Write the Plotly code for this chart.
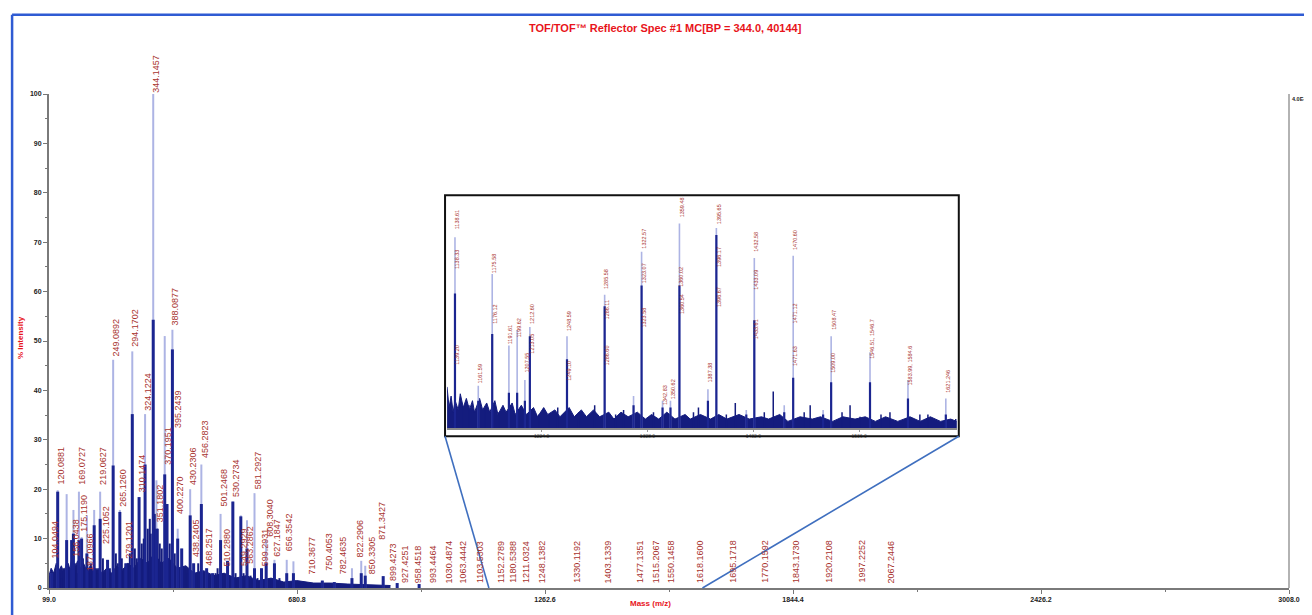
import plotly.graph_objects as go

# ---------------- main spectrum data (m/z, % intensity) ----------------
main_mz = [105.3, 119.4, 140.4, 152.1, 156.3, 169.2, 175.5, 187.9, 205.0, 219.0,
           236.4, 249.5, 265.2, 279.2, 294.4, 310.3, 324.4, 343.5, 351.0, 370.5,
           375.9, 388.5, 400.9, 410.3, 430.2, 438.3, 456.4, 468.8, 482.8, 501.5,
           517.9, 530.3, 549.0, 563.5, 581.1, 597.5, 608.5, 627.9, 656.7, 672.4,
           740.2, 768.3, 809.7, 831.5, 840.9, 883.0, 915.8, 967.3]
main_int = [3, 19.8, 19, 9.7, 15.8, 19.5, 10.3, 14.7, 15.8, 19.5,
            5.7, 46.2, 15.8, 5, 47.9, 18.4, 35.2, 100, 21.8, 51,
            17, 52.3, 12, 8, 20, 5, 25, 4, 3, 15,
            5.5, 17.5, 14.7, 13.7, 19.2, 4, 9.7, 5.7, 5.7, 5.4,
            1.5, 1.2, 4, 5.5, 4.5, 2.4, 1, 0.8]
main_core = [3, 19.5, 9.7, 9.7, 11, 9.7, 10, 7, 12.7, 14,
             5.7, 24.8, 15.4, 5, 35.2, 18.4, 25, 54.3, 12, 23,
             17, 48.3, 10, 8, 14.7, 5, 17, 4, 3, 9.7,
             5.5, 17.5, 14.5, 8, 4, 4, 5, 5, 3, 3,
             1.5, 1.2, 2, 3, 2.5, 2.4, 1, 0.8]

minor_mz = [106.0, 110.7, 124.7, 129.4, 134.1, 143.5, 148.1, 159.8, 164.5, 178.6,
            183.3, 192.6, 197.3, 209.0, 213.7, 225.4, 230.1, 241.8, 255.8, 260.5,
            269.8, 274.5, 283.9, 288.6, 300.3, 304.9, 316.6, 321.3, 330.7, 335.4,
            337.7, 347.1, 354.1, 358.8, 363.5, 382.2, 393.9, 417.3, 424.3, 445.4,
            449.1, 461.7, 475.8, 489.8, 494.5, 508.6, 524.9, 536.6, 555.4, 571.8,
            588.1, 616.2, 639.6, 686.4, 721.5, 780.0]
minor_int = [3, 1.5, 3, 2, 4, 5, 4, 5, 3, 6,
             4, 3, 5, 4, 3, 6, 3, 4, 7, 5,
             6, 4, 5, 7, 8, 6, 9, 10, 12, 14,
             11, 15, 12, 9, 8, 9, 7, 4, 3, 3,
             5, 3, 2, 3, 4, 3, 2.5, 3, 3, 2.5,
             2, 1.5, 2, 1, 1, 0.8]

main_noise_mz = [99, 104, 110, 116, 122, 128, 134, 140, 147, 153,
                 160, 166, 172, 180, 188, 196, 205, 214, 224, 234,
                 246, 258, 270, 284, 298, 314, 330, 346, 362, 380,
                 400, 420, 440, 462, 486, 510, 536, 562, 590, 620,
                 650, 680, 720, 760, 800, 850, 900]
main_noise_int = [2.5, 4, 3, 5, 3.5, 4.5, 3, 5, 4, 6,
                  4, 5.5, 4, 5, 3.5, 4.5, 3, 4, 3, 4,
                  3, 4.5, 3.5, 5, 4, 6, 5, 7, 5, 6,
                  4, 4.5, 3, 3.5, 2.5, 3, 2, 2.5, 1.5, 2,
                  1.2, 1.5, 1, 1, 0.8, 0.6, 0.5]

label_mz = [105.3, 119.4, 156.3, 169.2, 175.5, 187.9, 219.0, 225.4, 249.5, 265.2,
            279.2, 294.4, 310.3, 324.4, 343.5, 351.0, 370.5, 388.5, 395.0, 400.9,
            430.2, 438.3, 456.4, 468.8, 501.5, 510.0, 530.3, 549.0, 563.5, 581.1,
            599.0, 608.5, 627.9, 656.7,
            710, 750, 782, 822, 850, 871, 899, 927, 958, 993,
            1030, 1063, 1103, 1152, 1180, 1211, 1248, 1330, 1403, 1477,
            1515, 1550, 1618, 1695, 1770, 1843, 1920, 1997, 2067]
label_y = [5.5, 20.5, 6, 20.5, 11, 3, 20.5, 8.5, 46.5, 16,
           5.5, 48.5, 19, 35.5, 100, 13, 24.5, 52.8, 32, 14.5,
           20.5, 5.8, 26, 4, 16, 4, 18, 4, 4.5, 19.5,
           4, 10, 6, 7,
           2.4, 3, 2.4, 5.8, 2.4, 9.4, 1, 0.6, 0.6, 0.6,
           0.6, 0.6, 0.6, 0.6, 0.6, 0.6, 0.6, 0.6, 0.6, 0.6,
           0.6, 0.6, 0.6, 0.6, 0.6, 0.6, 0.6, 0.6, 0.6]
label_text = ["104.0494", "120.0881", "156.0438", "169.0727", "175.1190", "187.0966",
              "219.0627", "225.1052", "249.0892", "265.1260", "279.1201", "294.1702",
              "310.1474", "324.1224", "344.1457", "351.1802", "370.1951", "388.0877",
              "395.2439", "400.2270", "430.2306", "438.2405", "456.2823", "468.2517",
              "501.2468", "510.2880", "530.2734", "549.2929", "563.2862", "581.2927",
              "599.2931", "608.3040", "627.1847", "656.3542",
              "710.3677", "750.4053", "782.4635", "822.2906", "850.3305", "871.3427",
              "899.4273", "927.4251", "958.4518", "993.4464", "1030.4874", "1063.4442",
              "1103.5303", "1152.2789", "1180.5388", "1211.0324", "1248.1382",
              "1330.1192", "1403.1339", "1477.1351", "1515.2067", "1550.1458",
              "1618.1600", "1695.1718", "1770.1592", "1843.1730", "1920.2108",
              "1997.2252", "2067.2446"]

x_tick_vals = [99.0, 680.8, 1262.6, 1844.4, 2426.2, 3008.0]
x_tick_text = ["99.0", "680.8", "1262.6", "1844.4", "2426.2", "3008.0"]
y_tick_vals = [0, 10, 20, 30, 40, 50, 60, 70, 80, 90, 100]
y_tick_text = ["0", "10", "20", "30", "40", "50", "60", "70", "80", "90", "100"]

# ---------------- inset (zoomed region) ----------------
inset_range = [1131, 1632]
inset_mz = [1138.8, 1161.7, 1175.4, 1191.8, 1199.9, 1207.5, 1212.4, 1248.9, 1285.9, 1314.3,
            1322.2, 1342.8, 1350.6, 1359.4, 1387.4, 1395.7, 1425.1, 1433.0, 1462.4, 1471.2,
            1500.6, 1508.5, 1546.7, 1584.0, 1621.2]
inset_int = [83, 18.5, 67, 36, 42.7, 21, 44, 40, 58, 14,
             76.7, 12, 12, 89, 17, 87, 8, 74, 10, 75,
             8, 40, 33, 21, 13]
inset_core = [58.6, 12, 41, 15.5, 15.5, 12, 40, 30, 53, 10,
              62, 9, 9, 62, 12, 84, 6, 47, 7, 22,
              6, 20, 20, 13, 6]
inset_minor_mz = [1146.7, 1152.6, 1168.3, 1182.0, 1221.2, 1231.0, 1239.8, 1260.4, 1276.1, 1296.7,
                  1304.5, 1333.9, 1373.2, 1378.1, 1405.5, 1414.3, 1442.8, 1451.6, 1482.0, 1487.9,
                  1519.2, 1527.1, 1536.9, 1557.5, 1566.3, 1595.7, 1603.6, 1631.0]
inset_minor_int = [9, 10, 8, 7, 6, 6, 9, 7, 10, 6,
                   8, 7, 7, 9, 6, 11, 7, 16, 7, 10,
                   7, 10, 5, 6, 7, 6, 6, 4]
inset_noise_mz = [1131, 1133, 1135, 1137, 1139, 1142, 1144, 1147, 1150, 1153,
                  1156, 1158, 1163, 1166, 1170, 1173, 1178, 1181, 1186, 1189,
                  1195, 1198, 1204, 1209, 1216, 1220, 1226, 1230, 1237, 1242,
                  1251, 1256, 1263, 1268, 1275, 1281, 1290, 1295, 1302, 1309,
                  1318, 1326, 1332, 1339, 1347, 1355, 1365, 1370, 1380, 1390,
                  1398, 1406, 1418, 1428, 1440, 1447, 1458, 1466, 1478, 1490,
                  1498, 1510, 1520, 1532, 1542, 1552, 1562, 1574, 1586, 1596,
                  1606, 1616, 1626, 1632]
inset_noise_int = [18, 9, 14, 7, 12, 8, 15, 9, 13, 8,
                   12, 7, 13, 8, 11, 7, 12, 6, 10, 7,
                   11, 6, 10, 6, 9, 5, 9, 6, 8, 5,
                   9, 5, 8, 5, 8, 5, 7, 4, 7, 5,
                   7, 4, 6, 4, 7, 4, 6, 4, 6, 4,
                   6, 4, 6, 4, 5, 4, 6, 3, 5, 4,
                   5, 3, 5, 4, 5, 3, 5, 3, 5, 3,
                   5, 3, 4, 3]
inset_label_mz = [1138.8, 1138.8, 1138.8, 1161.7, 1175.4, 1175.4, 1191.8, 1199.9, 1207.5, 1212.4,
                  1212.4, 1248.9, 1248.9, 1285.9, 1285.9, 1285.9, 1322.2, 1322.2, 1322.2, 1342.8,
                  1350.6, 1359.4, 1359.4, 1359.4, 1387.4, 1395.7, 1395.7, 1395.7, 1433.0, 1433.0,
                  1433.0, 1471.2, 1471.2, 1471.2, 1508.5, 1508.5, 1546.7, 1584.0, 1621.2]
inset_label_y = [85.8, 68.5, 27, 18.5, 66.4, 44.4, 35.8, 38.4, 23.3, 44.4,
                 31.5, 41.4, 19.8, 59.5, 46.5, 26.3, 77, 62, 42.7, 9,
                 12, 91, 60.8, 49, 19, 88, 69.4, 52, 76, 59.5,
                 38, 76.7, 44.8, 26.3, 42, 23.3, 29.3, 17.7, 14.7]
inset_label_text = ["1138.61", "1138.33", "1139.20", "1161.59", "1175.58", "1176.12", "1191.61",
                    "1199.62", "1207.55", "1212.60", "1213.05", "1248.59", "1249.10", "1285.58",
                    "1286.11", "1286.60", "1322.57", "1323.07", "1323.58", "1342.83", "1350.62",
                    "1359.48", "1360.02", "1360.54", "1387.38", "1395.65", "1396.17", "1396.67",
                    "1432.58", "1433.09", "1433.61", "1470.60", "1471.12", "1471.63", "1508.47",
                    "1509.00", "1546.51, 1546.7", "1583.99, 1584.6", "1621.246"]
inset_tick_vals = [1224.0, 1328.0, 1432.0, 1536.0]
inset_tick_text = ["1224.0", "1328.0", "1432.0", "1536.0"]

# ---------------- layout geometry ----------------
# the page body adds an 8px margin, so the figure is drawn 8px in from the top-left
BODY = 8
W, H = 1304, 607
ML, MR, MT, MB = 41, 20, 86, 23
PW, PH = W - ML - MR, H - MT - MB


def pxx(px):
    """screen x pixel -> paper x"""
    return (px - BODY - ML) / PW


def pxy(py):
    """screen y pixel -> paper y"""
    return (H - MB - (py - BODY)) / PH


def sticks(xs, ys):
    sx, sy = [], []
    for a, b in zip(xs, ys):
        sx += [a, a, None]
        sy += [0, b, None]
    return sx, sy


LIGHT = "#adb4e4"
DARK = "#1b2590"
NAVY = "#141c7e"
LABEL = "#a8322d"
FONT = "Liberation Sans"

fig = go.Figure()

# main spectrum
fig.add_trace(go.Scatter(x=main_noise_mz, y=main_noise_int, mode="lines", fill="tozeroy",
                         fillcolor=NAVY, line=dict(color=NAVY, width=1), hoverinfo="skip"))
sx, sy = sticks(main_mz, main_int)
fig.add_trace(go.Scatter(x=sx, y=sy, mode="lines", line=dict(color=LIGHT, width=2), hoverinfo="skip"))
sx, sy = sticks(minor_mz, minor_int)
fig.add_trace(go.Scatter(x=sx, y=sy, mode="lines", line=dict(color=NAVY, width=2), hoverinfo="skip"))
sx, sy = sticks(main_mz, main_core)
fig.add_trace(go.Scatter(x=sx, y=sy, mode="lines", line=dict(color=DARK, width=3), hoverinfo="skip"))

# inset spectrum
fig.add_trace(go.Scatter(x=inset_noise_mz, y=inset_noise_int, mode="lines", fill="tozeroy",
                         fillcolor=NAVY, line=dict(color=NAVY, width=1), hoverinfo="skip",
                         xaxis="x2", yaxis="y2"))
sx, sy = sticks(inset_minor_mz, inset_minor_int)
fig.add_trace(go.Scatter(x=sx, y=sy, mode="lines", line=dict(color=NAVY, width=1.5), hoverinfo="skip",
                         xaxis="x2", yaxis="y2"))
sx, sy = sticks(inset_mz, inset_int)
fig.add_trace(go.Scatter(x=sx, y=sy, mode="lines", line=dict(color=LIGHT, width=1.6), hoverinfo="skip",
                         xaxis="x2", yaxis="y2"))
sx, sy = sticks(inset_mz, inset_core)
fig.add_trace(go.Scatter(x=sx, y=sy, mode="lines", line=dict(color=DARK, width=2.2), hoverinfo="skip",
                         xaxis="x2", yaxis="y2"))

annotations = []
for m, yv, t in zip(label_mz, label_y, label_text):
    annotations.append(dict(x=m, y=min(yv, 99.5), xref="x", yref="y", text=t, showarrow=False,
                            textangle=-90, xanchor="center", yanchor="bottom", xshift=3,
                            yshift=2 if yv >= 99.5 else 0,
                            font=dict(family=FONT, size=9, color=LABEL)))
for m, yv, t in zip(inset_label_mz, inset_label_y, inset_label_text):
    annotations.append(dict(x=m, y=yv, xref="x2", yref="y2", text=t, showarrow=False, textangle=-90,
                            xanchor="center", yanchor="bottom", xshift=2,
                            font=dict(family=FONT, size=5.5, color=LABEL)))

annotations += [
    dict(x=pxx(667), y=pxy(27), xref="paper", yref="paper", showarrow=False,
         text="TOF/TOF\u2122 Reflector Spec #1 MC[BP = 344.0, 40144]",
         font=dict(family=FONT, size=11, color="#e8141b", weight="bold"),
         xanchor="center", yanchor="middle"),
    dict(x=pxx(20), y=pxy(340), xref="paper", yref="paper", showarrow=False, text="% Intensity",
         textangle=-90, font=dict(family=FONT, size=8, color="#e8141b", weight="bold"),
         xanchor="center", yanchor="middle"),
    dict(x=pxx(652), y=pxy(614), xref="paper", yref="paper", showarrow=False, text="Mass (m/z)",
         font=dict(family=FONT, size=8, color="#e8141b", weight="bold"),
         xanchor="center", yanchor="bottom"),
    dict(x=pxx(1293), y=pxy(99), xref="paper", yref="paper", showarrow=False, text="4.0E+4",
         font=dict(family=FONT, size=5.5, color="#222222", weight="bold"),
         xanchor="left", yanchor="middle"),
]

frame = "#2f5bd3"
shapes = [
    dict(type="line", xref="paper", yref="paper", x0=pxx(12), x1=pxx(12), y0=pxy(640), y1=pxy(14),
         line=dict(color=frame, width=2.5)),
    dict(type="line", xref="paper", yref="paper", x0=pxx(12), x1=pxx(1340), y0=pxy(14), y1=pxy(14),
         line=dict(color=frame, width=2.5)),
    dict(type="line", xref="paper", yref="paper", x0=1.0, x1=1.0, y0=0, y1=1,
         line=dict(color="#9a9a9a", width=1.5)),
    dict(type="rect", xref="paper", yref="paper", x0=pxx(446), x1=pxx(961), y0=pxy(439), y1=pxy(196),
         line=dict(color="#111111", width=2)),
    dict(type="line", xref="paper", yref="paper", x0=pxx(446), y0=pxy(439),
         x1=(inset_range[0] - x_tick_vals[0]) / (x_tick_vals[-1] - x_tick_vals[0]), y1=0,
         line=dict(color="#3f6fbf", width=1.6)),
    dict(type="line", xref="paper", yref="paper", x0=pxx(961), y0=pxy(439),
         x1=(inset_range[1] - x_tick_vals[0]) / (x_tick_vals[-1] - x_tick_vals[0]), y1=0,
         line=dict(color="#3f6fbf", width=1.6)),
]

tickfont = dict(family=FONT, size=7, color="#222222", weight="bold")
fig.update_layout(
    width=W, height=H,
    margin=dict(l=ML, r=MR, t=MT, b=MB),
    paper_bgcolor="white", plot_bgcolor="white",
    showlegend=False,
    xaxis=dict(range=[x_tick_vals[0], x_tick_vals[-1]], domain=[0, 1], tickvals=x_tick_vals,
               ticktext=x_tick_text, ticks="outside", ticklen=4, tickcolor="#777777",
               showline=True, linecolor="#7a7a7a", linewidth=2, showgrid=False, zeroline=False,
               tickfont=tickfont,
               minor=dict(ticks="outside", ticklen=2, tick0=x_tick_vals[0],
                          dtick=(x_tick_vals[1] - x_tick_vals[0]) / 2, tickcolor="#777777")),
    yaxis=dict(range=[0, 100], tickvals=y_tick_vals, ticktext=y_tick_text, ticks="outside",
               ticklen=4, tickcolor="#777777", showline=True, linecolor="#7a7a7a", linewidth=2,
               showgrid=False, zeroline=False, tickfont=tickfont,
               minor=dict(ticks="outside", ticklen=2, dtick=5, tickcolor="#777777")),
    xaxis2=dict(domain=[pxx(448), pxx(959)], anchor="y2", range=inset_range,
                tickvals=inset_tick_vals, ticktext=inset_tick_text, ticks="outside", ticklen=2,
                tickcolor="#999999", showline=True, linecolor="#8a8a8a", linewidth=1.5,
                showgrid=False, zeroline=False,
                tickfont=dict(family=FONT, size=5, color="#666666")),
    yaxis2=dict(domain=[pxy(431), pxy(199)], anchor="x2", range=[0, 100], visible=False),
    annotations=annotations,
    shapes=shapes,
)

fig.write_html("out.html")
